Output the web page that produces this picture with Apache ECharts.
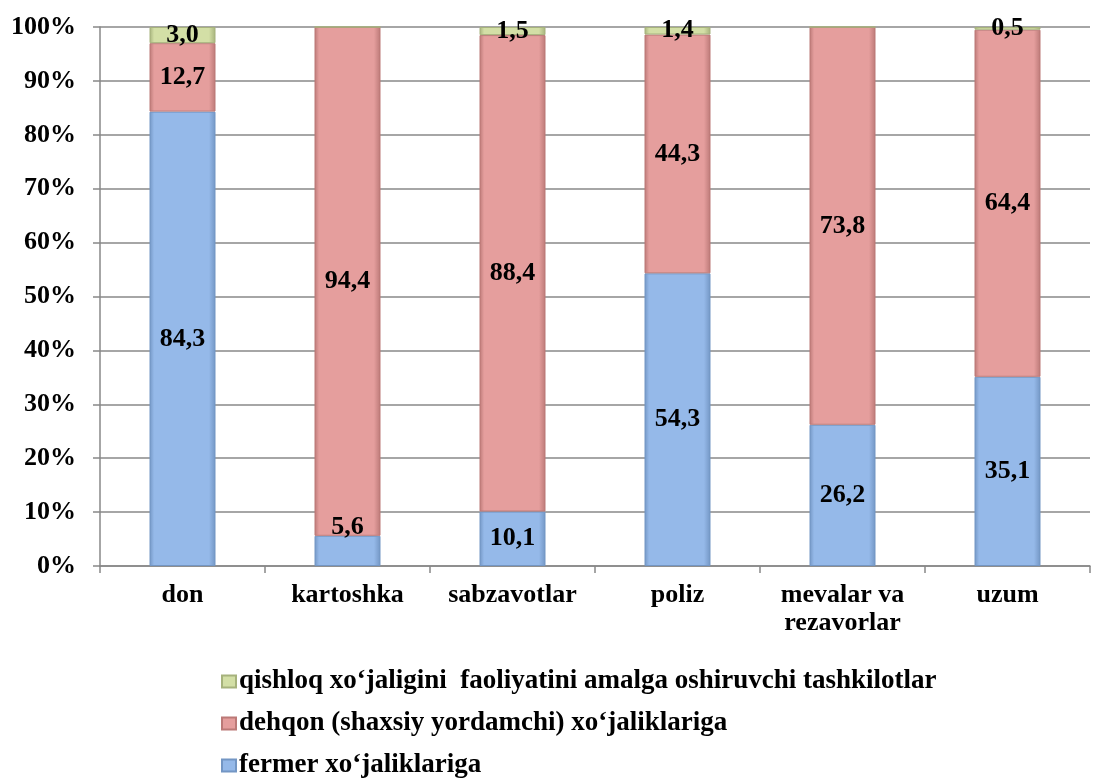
<!DOCTYPE html>
<html>
<head>
<meta charset="utf-8">
<script src="https://cdn.jsdelivr.net/npm/echarts@6/dist/echarts.min.js"></script>
<style>
  html, body { margin: 0; padding: 0; background: #fff; }
  #chart { width: 1108px; height: 780px; }
</style>
</head>
<body>
<div id="chart"></div>
<script>
const categories = ['don', 'kartoshka', 'sabzavotlar', 'poliz', 'mevalar va\nrezavorlar', 'uzum']
const fermer = [84.3, 5.6, 10.1, 54.3, 26.2, 35.1]
const dehqon = [12.7, 94.4, 88.4, 44.3, 73.8, 64.4]
const qishloq = [3.0, 0, 1.5, 1.4, 0, 0.5]

const seriesNames = [
  'fermer xo‘jaliklariga',
  'dehqon (shaxsiy yordamchi) xo‘jaliklariga',
  'qishloq xo‘jaligini  faoliyatini amalga oshiruvchi tashkilotlar'
]

const font = '"Liberation Serif", "Times New Roman", serif'

const shade = (mid, dark) => new echarts.graphic.LinearGradient(0, 0, 1, 0, [
  { offset: 0, color: dark },
  { offset: 0.07, color: mid },
  { offset: 0.9, color: mid },
  { offset: 1, color: dark }
])

const labelStyle = {
  show: true,
  position: 'inside',
  color: '#000',
  fontFamily: font,
  fontWeight: 'bold',
  fontSize: 26,
  formatter: p => p.value > 0 ? p.value.toFixed(1).replace('.', ',') : ''
}

const makeSeries = (name, values, colors) => ({
  name,
  type: 'bar',
  stack: 'total',
  barWidth: '40%',
  data: values.map(v => {
    const item = { value: v }
    // the small fermer piece (kartoshka) carries its label just above it
    if (name === seriesNames[0] && v < 8) {
      item.label = { position: 'top', distance: -4 }
    }
    return item
  }),
  itemStyle: {
    color: shade(colors[0], colors[1]),
    borderColor: colors[1],
    borderWidth: 1
  },
  label: labelStyle
})

const chart = echarts.init(document.getElementById('chart'))
chart.setOption({
  animation: false,
  grid: { left: 100, right: 18, top: 27, bottom: 214, containLabel: false },
  legend: {
    orient: 'vertical',
    left: 216,
    top: 663,
    height: 140,
    itemGap: 15,
    itemWidth: 14,
    itemHeight: 12,
    icon: 'rect',
    data: [seriesNames[2], seriesNames[1], seriesNames[0]],
    textStyle: { fontFamily: font, fontWeight: 'bold', fontSize: 27, color: '#000', padding: [0, 0, 0, -2] }
  },
  xAxis: {
    type: 'category',
    data: categories,
    axisLine: { lineStyle: { color: '#888', width: 1.5 } },
    axisTick: { show: true, length: 7, lineStyle: { color: '#888', width: 1.5 } },
    axisLabel: {
      interval: 0,
      fontFamily: font, fontWeight: 'bold', fontSize: 26, color: '#000',
      margin: 15, lineHeight: 28
    }
  },
  yAxis: {
    type: 'value',
    min: 0,
    max: 100,
    interval: 10,
    axisLine: { show: true, lineStyle: { color: '#888', width: 1.5 } },
    axisTick: { show: true, length: 7, lineStyle: { color: '#888', width: 1.5 } },
    splitLine: { lineStyle: { color: '#888', width: 1.5 } },
    axisLabel: {
      formatter: '{value}%',
      fontFamily: font, fontWeight: 'bold', fontSize: 26, color: '#000',
      margin: 24
    }
  },
  series: [
    makeSeries(seriesNames[0], fermer, ['#95b9e9', '#7396c4']),
    makeSeries(seriesNames[1], dehqon, ['#e59e9d', '#bb7977']),
    makeSeries(seriesNames[2], qishloq, ['#d3dfa6', '#a6b27c'])
  ]
})
</script>
</body>
</html>
